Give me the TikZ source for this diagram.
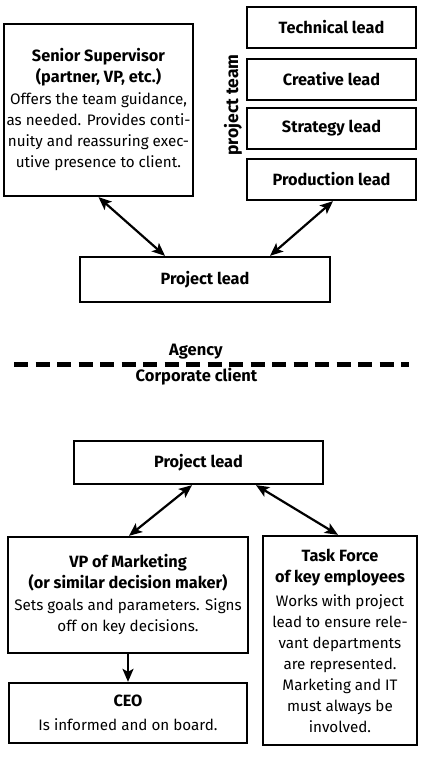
\documentclass[tikz,border=0pt]{standalone}
\usepackage{fontspec}
\setmainfont{Fira Sans}
\usetikzlibrary{arrows.meta}
\newcommand\hdline[1]{{\fontsize{16.3}{21}\selectfont\bfseries #1}}
\begin{document}
\begin{tikzpicture}[x=1pt,y=-1pt,
  box/.style={draw,line width=2.3pt,rectangle,align=center,inner sep=1pt,
    font=\fontsize{15.2}{21}\selectfont},
  lead/.style={box,minimum width=169pt,minimum height=41pt,font=\fontsize{16.3}{18}\selectfont\bfseries},
  tip/.style={Stealth[length=13pt,width=11pt,inset=3pt]},
  conn/.style={line width=2.2pt,{Stealth[length=13pt,width=11pt,inset=3pt]}-{Stealth[length=13pt,width=11pt,inset=3pt]}},
  oneway/.style={line width=2.2pt,-{Stealth[length=13pt,width=11pt,inset=3pt]}},
  lbl/.style={font=\fontsize{16.5}{18}\selectfont\bfseries,inner sep=0pt}]
\useasboundingbox (0,0) rectangle (421,760);
\fill[white] (0,0) rectangle (421,760);

\node[box,minimum width=189pt,minimum height=172pt] (senior) at (98.5,110)
  {\hdline{Senior Supervisor}\\\hdline{(partner, VP, etc.)}\\[1pt]Offers the team guidance,\\as needed. Provides conti-\\nuity and reassuring exec-\\utive presence to client.};
\node[lead] (tech) at (331.5,27.5) {Technical lead};
\node[lead] (creative) at (331.5,79.5) {Creative lead};
\node[lead] (strategy) at (331.5,128.5) {Strategy lead};
\node[lead] (prod) at (331.5,179.5) {Production lead};
\node[lbl,rotate=90,font=\fontsize{17.5}{18}\selectfont\bfseries] (team) at (233,105) {project team};

\node[lead,minimum width=250pt,minimum height=45pt] (projA) at (205,279.5) {Project lead};
\draw[conn] (senior.south) -- ([xshift=-40pt]projA.north);
\draw[conn] ([xshift=1.5pt]prod.south) -- ([xshift=65pt]projA.north);

\node[lbl,anchor=base] (agency) at (196,355.7) {Agency};
\coordinate (dl) at (14,364.5);
\coordinate (dr) at (409,364.5);
\draw[line width=5.5pt,dash pattern=on 14pt off 7.5pt] (dl) -- (dr);
\node[lbl,anchor=base] (client) at (196.5,381.7) {Corporate client};

\node[lead,minimum width=249pt,minimum height=43pt] (projC) at (198.5,462.5) {Project lead};
\node[box,minimum width=240pt,minimum height=116pt] (vp) at (128,595)
  {\hdline{VP of Marketing}\\\hdline{(or similar decision maker)}\\[1pt]Sets goals and parameters. Signs\\off on key decisions.};
\node[box,minimum width=238pt,minimum height=60pt] (ceo) at (128,713)
  {\hdline{CEO}\\[3pt]Is informed and on board.};
\node[box,minimum width=154pt,minimum height=209pt] (task) at (340,640.5)
  {\hdline{Task Force}\\\hdline{of key employees}\\[3pt]Works with project\\lead to ensure rele-\\vant departments\\are represented.\\Marketing and IT\\must always be\\involved.};
\draw[conn] ([xshift=-6.5pt]projC.south) -- ([xshift=1pt]vp.north);
\draw[conn] ([xshift=57.5pt]projC.south) -- ([xshift=-2pt]task.north);
\draw[oneway] (vp.south) -- (ceo.north);
\end{tikzpicture}
\end{document}
